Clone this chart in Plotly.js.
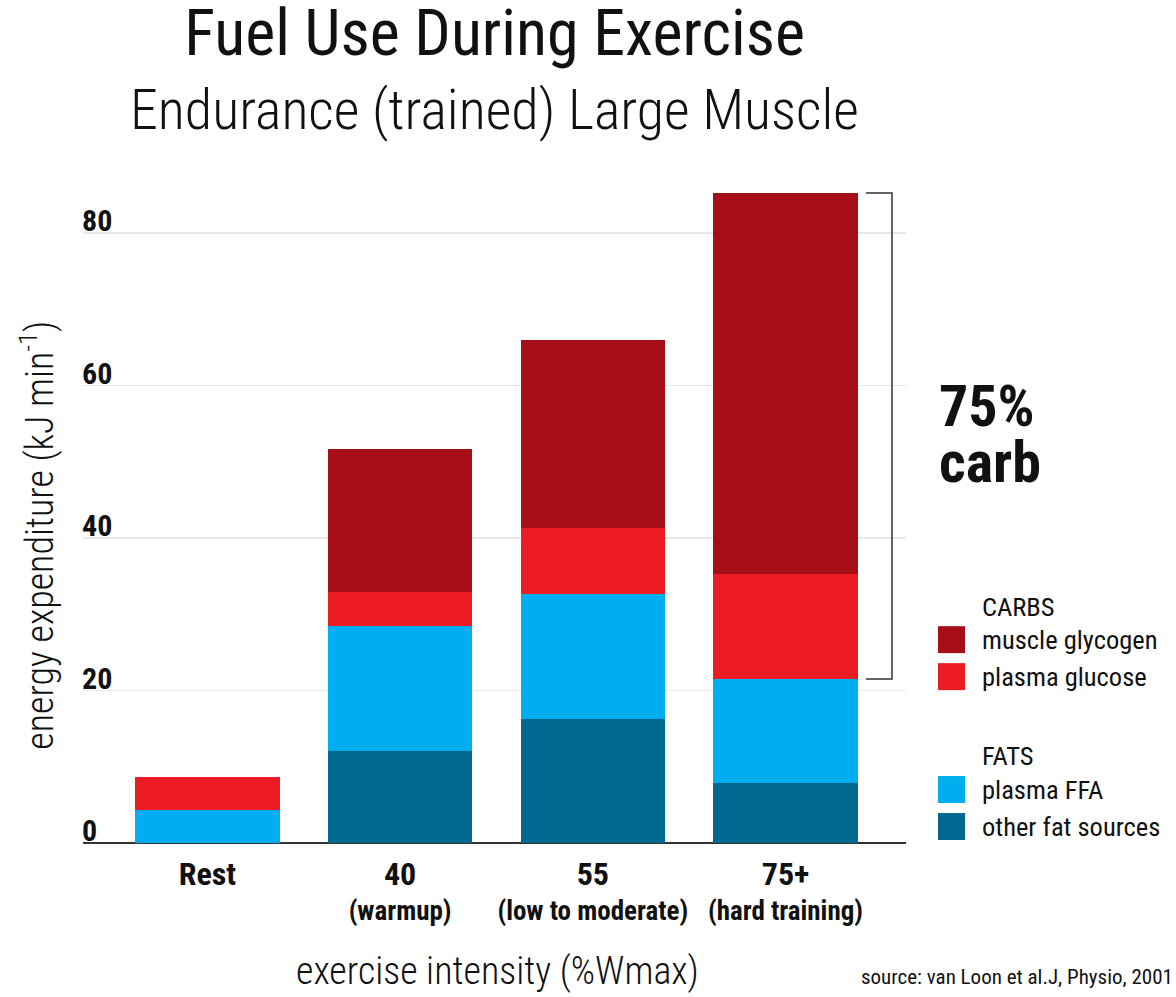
<!DOCTYPE html>
<html>
<head>
<meta charset="utf-8">
<script src="https://cdn.plot.ly/plotly-3.0.1.min.js"></script>
<style>
  html, body { margin: 0; padding: 0; background: #fff; }
  #chart { width: 1176px; height: 997px; }
</style>
</head>
<body>
<div id="chart"></div>
<script>
// Exercise intensity categories and their second-line descriptions
const categories = ['Rest', '40', '55', '75+'];
const subLabels = ['', '(warmup)', '(low to moderate)', '(hard training)'];

// Energy expenditure by fuel source (kJ per minute)
const otherFat = [0, 12.0, 16.2, 7.8];
const plasmaFFA = [4.3, 16.5, 16.5, 13.7];
const plasmaGlucose = [4.35, 4.35, 8.55, 13.75];
const muscleGlycogen = [0, 18.75, 24.7, 50.0];

const seriesNames = ['muscle glycogen', 'plasma glucose', 'plasma FFA', 'other fat sources'];
const groupTitles = ['CARBS', 'FATS'];

const yTicks = [0, 20, 40, 60, 80];

const titleText = 'Fuel Use During Exercise';
const subtitleText = 'Endurance (trained) Large Muscle';
const source = 'source: van Loon et al.J, Physio, 2001';

// ---- page geometry ----
const W = 1176, H = 997;
const M = { l: 83, r: 270, t: 172, b: 141.5 };
const plotW = W - M.l - M.r;
const plotH = H - M.t - M.b;
const px = x => (x - M.l) / plotW;          // page x -> paper x
const py = y => (H - M.b - y) / plotH;      // page y -> paper y

const COND = 'Roboto Condensed, Liberation Sans Narrow, DejaVu Sans Condensed, Roboto, sans-serif';
const colors = {
  glycogen: '#a60f17',
  glucose: '#ed1c24',
  ffa: '#00aeef',
  other: '#006891'
};

function barTrace(name, values, color) {
  return {
    type: 'bar',
    name: name,
    x: categories,
    y: values,
    marker: { color: color, line: { width: 0 } },
    hoverinfo: 'skip',
    showlegend: false
  };
}

const traces = [
  barTrace(seriesNames[3], otherFat, colors.other),
  barTrace(seriesNames[2], plasmaFFA, colors.ffa),
  barTrace(seriesNames[1], plasmaGlucose, colors.glucose),
  barTrace(seriesNames[0], muscleGlycogen, colors.glycogen)
];

// carb share of the hardest intensity, drawn as the bracket + label
const last = categories.length - 1;
const fatTop = otherFat[last] + plasmaFFA[last];
const totalTop = fatTop + plasmaGlucose[last] + muscleGlycogen[last];
const carbPct = Math.round((totalTop - fatTop) / totalTop * 100);

// first line large, description line at the base tick size
const tickText = categories.map((c, i) => {
  const head = '<span style="font-size:32px">' + c + '</span>';
  return subLabels[i] ? head + '<br>' + subLabels[i] : head;
});

// custom legend: swatches + labels + group headings
const legendRows = [
  { kind: 'head', text: groupTitles[0], y: 607 },
  { kind: 'item', text: seriesNames[0], color: colors.glycogen, y: 640 },
  { kind: 'item', text: seriesNames[1], color: colors.glucose, y: 677 },
  { kind: 'head', text: groupTitles[1], y: 756 },
  { kind: 'item', text: seriesNames[2], color: colors.ffa, y: 790 },
  { kind: 'item', text: seriesNames[3], color: colors.other, y: 827 }
];

const shapes = [
  // bracket spanning the carbohydrate portion of the last bar
  {
    type: 'path', xref: 'paper', yref: 'y',
    path: 'M ' + px(866) + ',' + totalTop + ' L ' + px(892) + ',' + totalTop +
          ' L ' + px(892) + ',' + fatTop + ' L ' + px(866) + ',' + fatTop,
    line: { color: '#333333', width: 1.5 }
  }
];

const annotations = [
  {
    text: subtitleText, xref: 'paper', yref: 'paper', x: 0.5, y: py(110),
    xanchor: 'center', yanchor: 'middle', showarrow: false,
    font: { family: COND, size: 56, weight: 300, color: '#111' }
  },
  {
    text: carbPct + '%', xref: 'paper', yref: 'paper', x: px(937), y: py(406),
    xanchor: 'left', yanchor: 'middle', showarrow: false,
    font: { family: COND, size: 58, weight: 700, color: '#111' }
  },
  {
    text: 'carb', xref: 'paper', yref: 'paper', x: px(937), y: py(462),
    xanchor: 'left', yanchor: 'middle', showarrow: false,
    font: { family: COND, size: 58, weight: 700, color: '#111' }
  },
  {
    text: 'energy expenditure (kJ min<sup>-1</sup>)', xref: 'paper', yref: 'paper',
    x: px(37), y: py(536), textangle: -90, xanchor: 'center', yanchor: 'middle',
    showarrow: false, font: { family: COND, size: 38, weight: 300, color: '#111' }
  },
  {
    text: 'exercise intensity (%Wmax)', xref: 'paper', yref: 'paper',
    x: px(497), y: py(972), xanchor: 'center', yanchor: 'middle',
    showarrow: false, font: { family: COND, size: 38, weight: 300, color: '#111' }
  },
  {
    text: source, xref: 'paper', yref: 'paper',
    x: px(859), y: py(978), xanchor: 'left', yanchor: 'middle',
    showarrow: false, font: { family: COND, size: 21, weight: 400, color: '#111' }
  }
];

legendRows.forEach(r => {
  annotations.push({
    text: r.text, xref: 'paper', yref: 'paper', x: px(980), y: py(r.y),
    xanchor: 'left', yanchor: 'middle', showarrow: false,
    font: { family: COND, size: 26.5, weight: 400, color: '#111' }
  });
  if (r.kind === 'item') {
    shapes.push({
      type: 'rect', xref: 'paper', yref: 'paper',
      x0: px(938), x1: px(965), y0: py(r.y - 13.5), y1: py(r.y + 13.5),
      fillcolor: r.color, line: { width: 0 }
    });
  }
});

const layout = {
  width: W, height: H,
  margin: M,
  paper_bgcolor: '#ffffff',
  plot_bgcolor: '#ffffff',
  barmode: 'stack',
  bargap: 0.25,
  font: { family: COND, color: '#111' },
  title: {
    text: titleText,
    font: { family: COND, size: 64, weight: 400, color: '#111' },
    xref: 'paper', x: 0.5, xanchor: 'center',
    yref: 'container', y: 1 - 10 / H, yanchor: 'top'
  },
  xaxis: {
    type: 'category',
    range: [-(207.4 - M.l) / 192.7, (906 - 207.4) / 192.7],
    tickvals: categories,
    ticktext: tickText,
    tickfont: { family: COND, size: 27, weight: 700, color: '#111' },
    ticks: '',
    ticklabelstandoff: 2,
    showline: false,
    showgrid: false, zeroline: false, fixedrange: true
  },
  yaxis: {
    range: [-1.6, 88],
    tickvals: yTicks,
    ticktext: yTicks.map(String),
    tickfont: { family: COND, size: 30, weight: 700, color: '#111' },
    ticklabelposition: 'inside top',
    ticklabelshift: 9,
    ticklabelstandoff: -4,
    ticks: '',
    showgrid: true, gridcolor: '#e8e8e8', gridwidth: 1.5,
    zeroline: true, zerolinecolor: '#333333', zerolinewidth: 1.5,
    showline: false, fixedrange: true
  },
  shapes: shapes,
  annotations: annotations,
  showlegend: false
};

Plotly.newPlot('chart', traces, layout, { displayModeBar: false, staticPlot: true });
</script>
</body>
</html>
